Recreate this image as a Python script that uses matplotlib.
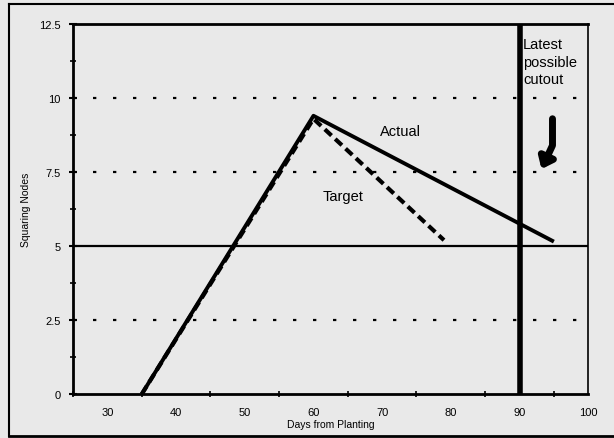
import matplotlib
matplotlib.use("Agg")
import matplotlib.pyplot as plt
from matplotlib.lines import Line2D
from matplotlib.path import Path
from matplotlib.patches import FancyArrowPatch

plt.rcParams['font.family'] = ['Liberation Sans', 'DejaVu Sans']

# Data
actual_x = [35, 60, 95]
actual_y = [0, 9.4, 5.15]
target_x = [35, 60, 79]
target_y = [0, 9.3, 5.2]
cutout_day = 90
threshold = 5
dotted_levels = [2.5, 7.5, 10]
x_labels = [30, 40, 50, 60, 70, 80, 90, 100]
x_minor = [25, 35, 45, 55, 65, 75, 85, 95]
y_major = [0, 2.5, 5, 7.5, 10, 12.5]
y_major_labels = ['0', '2.5', '5', '7.5', '10', '12.5']
y_minor = [1.25, 3.75, 6.25, 8.75, 11.25]

bg = '#e9e9e9'
fig = plt.figure(figsize=(6.14, 4.39), dpi=100, facecolor=bg)
ax = fig.add_axes([0.119, 0.100, 0.839, 0.843])
ax.set_facecolor(bg)
ax.set_xlim(25, 100)
ax.set_ylim(0, 12.5)

# gridlines
for lv in dotted_levels:
    ax.axhline(lv, color='black', linestyle=(0, (1.5, 7.5)), linewidth=1.6, zorder=1)
ax.axhline(threshold, color='black', linewidth=1.6, zorder=1)

# series
ax.plot(actual_x, actual_y, color='black', linewidth=2.8, zorder=3, solid_capstyle='butt')
ax.plot(target_x, target_y, color='black', linewidth=3.0, linestyle=(0, (2.2, 1.2)), zorder=3)

# cutout line
ax.axvline(cutout_day, color='black', linewidth=4, zorder=4)

# texts
ax.text(72.7, 8.9, 'Actual', fontsize=10.5, ha='center', va='center')
ax.text(64.3, 6.7, 'Target', fontsize=10.5, ha='center', va='center')
ax.text(90.5, 12.05, 'Latest\npossible\ncutout', fontsize=10.5, ha='left', va='top',
        linespacing=1.3)

# curved arrow
verts = [(94.8, 9.3), (94.8, 8.4), (93.2, 7.6)]
codes = [Path.MOVETO, Path.LINETO, Path.LINETO]
arr = FancyArrowPatch(path=Path(verts, codes), arrowstyle='-|>,head_length=0.5,head_width=0.4',
                      mutation_scale=12, color='black', linewidth=5, zorder=5)
ax.add_patch(arr)

# spines
for s in ['left', 'bottom', 'top']:
    ax.spines[s].set_linewidth(2)
ax.spines['right'].set_linewidth(1.2)

# ticks
ax.set_xticks(x_labels)
ax.set_xticklabels([str(v) for v in x_labels], fontsize=8)
ax.set_xticks(x_minor, minor=True)
ax.tick_params(axis='x', which='major', length=0, pad=9)
ax.tick_params(axis='x', which='minor', length=4, width=1.2, direction='inout')
ax.set_yticks(y_major)
ax.set_yticklabels(y_major_labels, fontsize=8)
ax.set_yticks(y_minor, minor=True)
ax.tick_params(axis='y', which='major', length=6, width=1.5, direction='inout', pad=6)
ax.tick_params(axis='y', which='minor', length=4, width=1.2, direction='inout')

ax.set_xlabel('Days from Planting', fontsize=7.5, labelpad=2)
ax.set_ylabel('Squaring Nodes', fontsize=7.5, labelpad=6)

# figure border (top, left, bottom)
fig.add_artist(Line2D([0.015, 1.0], [0.988, 0.988], transform=fig.transFigure, color='black', linewidth=1.5))
fig.add_artist(Line2D([0.015, 0.015], [0.005, 0.988], transform=fig.transFigure, color='black', linewidth=1.5))
fig.add_artist(Line2D([0.015, 1.0], [0.005, 0.005], transform=fig.transFigure, color='black', linewidth=2))

fig.savefig('out.png', dpi=100, facecolor=bg)
